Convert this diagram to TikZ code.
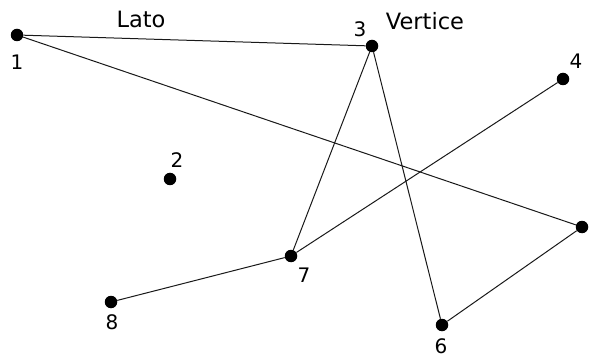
\documentclass[tikz,border=0pt]{standalone}
\usepackage{fontspec}
\setmainfont{DejaVu Sans}
\begin{document}
\begin{tikzpicture}[x=1pt,y=-1pt,
  vtx/.style={circle,fill=black,inner sep=0pt,minimum size=12.5pt},
  lbl/.style={inner sep=0pt,font=\fontsize{20}{23}\selectfont},
  word/.style={inner sep=0pt,font=\fontsize{22.5}{26}\selectfont},
  edge/.style={draw=black!90,line width=1pt}]
\useasboundingbox (0,0) rectangle (594,358);
\begin{scope}
\clip (0,0) rectangle (594,358);
\node[vtx] (v1) at (17,35) {};
\node[vtx] (v2) at (170,179) {};
\node[vtx] (v3) at (372,46) {};
\node[vtx] (v4) at (563,79) {};
\node[vtx] (v5) at (582,227) {};
\node[vtx] (v6) at (442,325) {};
\node[vtx] (v7) at (291,256) {};
\node[vtx] (v8) at (111,302) {};
\draw[edge] (v1) -- (v3);
\draw[edge] (v1) -- (v5);
\draw[edge] (v3) -- (v7);
\draw[edge] (v3) -- (v6);
\draw[edge] (v7) -- (v4);
\draw[edge] (v7) -- (v8);
\draw[edge] (v6) -- (v5);
\node[lbl] (l1) at (17,62) {1};
\node[lbl] (l2) at (177,160) {2};
\node[lbl] (l3) at (360,29) {3};
\node[lbl] (l4) at (576,61) {4};
\node[lbl] (l5) at (599,207) {5};
\node[lbl] (l6) at (441,346) {6};
\node[lbl] (l7) at (304,275) {7};
\node[lbl] (l8) at (112,322) {8};
\node[word] (lato) at (141,19) {Lato};
\node[word] (vert) at (425,21) {Vertice};
\end{scope}
\end{tikzpicture}
\end{document}
